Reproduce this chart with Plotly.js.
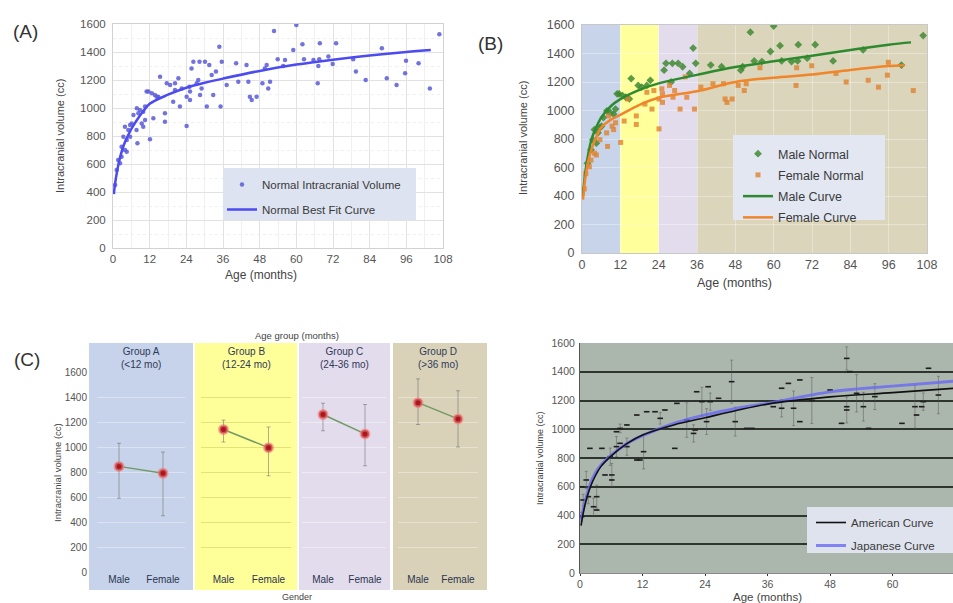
<!DOCTYPE html>
<html><head><meta charset="utf-8">
<script src="https://cdn.plot.ly/plotly-3.0.1.min.js"></script>
<style>html,body{margin:0;padding:0;background:#fff}#chart{width:953px;height:603px}</style>
</head><body><div id="chart"></div>
<script>
// ---------- DATA ----------
const monthTicks = [0,12,24,36,48,60,72,84,96,108];
const monthTicksD = [0,12,24,36,48,60,72];
const volTicks = [0,200,400,600,800,1000,1200,1400,1600];

// Panels A/B: individual normal intracranial volumes (age months, volume cc, sex)
const ageA = [0.7,1.2,1.7,2.3,2.8,2.8,3.4,3.9,3.9,4.5,4.5,5.0,5.6,5.6,6.1,6.7,7.7,7.8,8.0,8.3,8.8,9.4,9.9,9.9,10.5,10.5,11.0,11.6,12.1,12.7,13.2,13.7,14.3,14.8,15.4,17.0,17.0,17.6,18.7,19.7,20.3,20.3,21.4,21.9,22.5,24.1,24.1,25.0,25.2,25.2,25.7,26.3,27.4,27.9,28.3,28.5,29.0,30.1,30.7,31.5,32.3,32.8,33.7,34.8,35.2,35.6,37.2,40.3,41.0,43.7,44.3,44.8,45.4,47.0,48.9,49.7,50.3,50.8,51.4,52.7,53.9,55.7,56.3,59.0,60.0,62.0,62.5,65.6,67.0,67.2,67.5,67.7,70.5,71.9,73.0,78.6,79.5,82.7,88.0,89.6,92.8,95.6,95.9,100.0,103.7,106.8];
const volA = [450,557,629,605,724,652,795,700,866,771,688,843,879,795,890,950,843,998,748,962,986,890,974,866,1010,914,1117,1117,776,1105,926,1093,1081,1081,1224,962,902,1176,1164,1045,1128,1176,1212,1010,1140,871,1081,1152,1117,1057,1283,1331,1176,1200,1331,1093,1140,1331,1010,1307,1236,1093,1260,1438,1010,1331,1164,1319,1188,1307,1188,1081,1057,1081,1176,1283,1307,1140,1188,1550,1348,1300,1343,1414,1593,1455,1348,1343,1176,1300,1348,1462,1367,1314,1462,1348,1260,1200,1426,1212,1164,1248,1338,1319,1140,1526];
const sexA = ['F','F','M','F','M','F','M','F','M','M','F','M','M','F','M','M','F','M','F','F','M','F','M','F','M','F','M','M','F','M','F','M','F','M','M','F','F','M','M','F','F','M','M','F','F','F','F','F','F','F','M','M','F','M','M','F','F','M','F','M','F','F','M','M','F','M','F','M','F','M','F','F','F','F','F','M','M','F','F','M','M','F','M','M','M','M','M','M','F','F','M','M','M','F','M','M','F','F','M','F','F','F','F','M','F','M'];

// Panel A best-fit curve
const fitAgeA = [0.3,0.5,1,2,3,4,6,8,10,12,18,24,30,36,48,60,72,84,96,104];
const fitVolA = [385,430,505,620,700,760,850,920,980,1030,1095,1145,1180,1210,1265,1310,1345,1375,1400,1414];

// Panel B curves
const maleFitAge = [0.3,1,2,3,4,6,9,12,18,24,36,48,60,72,84,96,103];
const maleFitVol = [400,560,700,800,860,950,1030,1080,1145,1190,1250,1305,1345,1385,1425,1462,1478];
const femaleFitAge = [0.3,1,2,3,4,6,9,12,18,24,36,48,60,72,84,96,101];
const femaleFitVol = [375,520,650,730,790,880,935,970,1040,1090,1135,1200,1230,1252,1285,1312,1318];

// Panel C: group means and spread
const groupNames = ['Group A','Group B','Group C','Group D'];
const groupRanges = ['(<12 mo)','(12-24 mo)','(24-36 mo)','(>36 mo)'];
const genders = ['Male','Female'];
const maleMean = [845,1140,1260,1355];
const femaleMean = [790,995,1105,1225];
const malePlus = [185,75,90,190];
const maleMinus = [255,100,130,175];
const femalePlus = [170,165,235,225];
const femaleMinus = [340,225,255,225];

// Panel D: Japanese data with spread, American and Japanese curves
const ageD = [0.3,0.6,0.3,1.2,1.6,2.6,3.2,1.9,3.2,4.2,4.8,6.1,6.1,5.8,7.0,7.7,7.0,7.7,9.0,9.0,10.9,11.5,10.9,12.2,12.8,14.4,15.4,16.3,18.2,18.6,20.5,21.8,22.1,22.4,23.4,24.3,24.6,25.0,26.6,29.1,29.8,32.0,33.0,37.1,38.7,38.7,40.0,41.0,42.2,42.2,44.5,48.0,50.2,51.2,51.2,51.8,51.2,53.1,55.4,54.4,56.6,61.8,64.3,64.6,65.6,65.9,66.9,68.8];
const volD = [600,508,392,647,531,461,438,867,531,867,682,682,647,809,879,902,983,1006,1030,879,786,786,1099,844,1122,1122,1076,1134,867,1180,1064,971,995,1261,1192,1053,1296,1192,1215,1331,1053,1006,1006,1157,1146,1285,1319,1146,1343,1053,1200,1273,1041,1134,1493,1401,1157,1250,1006,1157,1227,1041,1157,1099,1157,1192,1424,1238];
const errD = [0,40,30,60,50,60,0,0,80,0,0,80,0,60,70,0,0,30,0,60,0,0,0,120,0,0,40,0,0,0,120,60,0,0,100,90,0,60,0,150,100,0,0,0,60,0,0,120,0,0,160,0,0,90,80,0,0,130,0,100,90,0,150,0,0,60,0,130];
const amerAge = [0.2,1,2,3,4,6,9,12,18,24,30,36,48,60,72];
const amerVol = [330,480,600,680,740,815,900,960,1030,1080,1130,1175,1225,1255,1285];
const japAge = [0.2,1,2,3,4,6,9,12,18,24,30,36,48,60,72];
const japVol = [370,500,620,700,750,820,900,955,1040,1100,1145,1180,1260,1300,1335];

// ---------- LAYOUT HELPERS ----------
const W = 953, H = 603;
const px = p => p / W;
const py = p => 1 - p / H;
const FONT = 'Liberation Sans, Arial, sans-serif';

const maleIdx = sexA.map((s,i)=>s==='M'?i:-1).filter(i=>i>=0);
const femIdx = sexA.map((s,i)=>s==='F'?i:-1).filter(i=>i>=0);

const traces = [];
// A
traces.push({type:'scatter', mode:'markers', x:ageA, y:volA, xaxis:'x', yaxis:'y',
  name:'Normal Intracranial Volume', legend:'legend', legendgroup:'a1',
  marker:{size:4.5, color:'#5a5ad8', opacity:0.85}});
traces.push({type:'scatter', mode:'lines', x:fitAgeA, y:fitVolA, xaxis:'x', yaxis:'y',
  name:'Normal Best Fit Curve', legend:'legend', legendgroup:'a2',
  line:{color:'#4b4bf0', width:2.5, shape:'spline'}});
// B
traces.push({type:'scatter', mode:'markers', x:maleIdx.map(i=>ageA[i]), y:maleIdx.map(i=>volA[i]), xaxis:'x2', yaxis:'y2',
  name:'Male Normal', legend:'legend2', legendgroup:'b1',
  marker:{size:6, symbol:'diamond', color:'#3f8a33', opacity:0.85}});
traces.push({type:'scatter', mode:'markers', x:femIdx.map(i=>ageA[i]), y:femIdx.map(i=>volA[i]), xaxis:'x2', yaxis:'y2',
  name:'Female Normal', legend:'legend2', legendgroup:'b2',
  marker:{size:5, symbol:'square', color:'#e0822e', opacity:0.8}});
traces.push({type:'scatter', mode:'lines', x:maleFitAge, y:maleFitVol, xaxis:'x2', yaxis:'y2',
  name:'Male Curve', legend:'legend2', legendgroup:'b3',
  line:{color:'#2e8a2e', width:2.5, shape:'spline'}});
traces.push({type:'scatter', mode:'lines', x:femaleFitAge, y:femaleFitVol, xaxis:'x2', yaxis:'y2',
  name:'Female Curve', legend:'legend2', legendgroup:'b4',
  line:{color:'#f0852a', width:2.5, shape:'spline'}});
// C
for (let g=0; g<4; g++) {
  traces.push({type:'scatter', mode:'lines+markers', x:genders, y:[maleMean[g], femaleMean[g]],
    xaxis:'x'+(g+3), yaxis:'y'+(g+3), showlegend:false,
    line:{color:'#6f9a63', width:1.5},
    marker:{size:8, color:'#a8191e', line:{color:'rgba(240,120,120,0.6)', width:3}},
    error_y:{type:'data', symmetric:false, array:[malePlus[g], femalePlus[g]], arrayminus:[maleMinus[g], femaleMinus[g]],
      color:'rgba(110,110,110,0.55)', thickness:1, width:2}});
}
// D
traces.push({type:'scatter', mode:'markers', x:ageD, y:volD, xaxis:'x7', yaxis:'y7', showlegend:false,
  marker:{symbol:'line-ew', size:4, line:{color:'#1e1e1e', width:1.6}},
  error_y:{type:'data', array:errD, color:'rgba(80,80,80,0.45)', thickness:1, width:1.5}});
traces.push({type:'scatter', mode:'lines', x:japAge, y:japVol, xaxis:'x7', yaxis:'y7',
  name:'Japanese Curve', legend:'legend3', legendgroup:'d2', legendrank:2,
  line:{color:'rgba(105,105,245,0.8)', width:3, shape:'spline'}});
traces.push({type:'scatter', mode:'lines', x:amerAge, y:amerVol, xaxis:'x7', yaxis:'y7',
  name:'American Curve', legend:'legend3', legendgroup:'d1', legendrank:1,
  line:{color:'#111', width:1.6, shape:'spline'}});

const baseTick = (size,color) => ({size:size, color:color||'#555', family:FONT});

const layout = {
  width:W, height:H, margin:{l:0,r:0,t:0,b:0},
  paper_bgcolor:'#fff', plot_bgcolor:'rgba(0,0,0,0)',
  font:{family:FONT, color:'#444'},
  showlegend:true,
  // A
  xaxis:{domain:[px(113),px(443)], range:[0,108], tickvals:monthTicks, anchor:'y',
    showgrid:true, gridcolor:'#e2e2e2', minor:{dtick:6, showgrid:true, gridcolor:'#f0f0f0'},
    zeroline:false, showline:true, linecolor:'#d2d2d2', mirror:true, ticks:'', tickfont:baseTick(11.5)},
  yaxis:{domain:[py(248),py(24)], range:[0,1600], tickvals:volTicks, anchor:'x',
    showgrid:true, gridcolor:'#e2e2e2', minor:{dtick:100, showgrid:true, gridcolor:'#f0f0f0', griddash:'dot'},
    zeroline:false, showline:true, linecolor:'#d2d2d2', mirror:true, ticks:'', tickfont:baseTick(11.5), ticklabelstandoff:4},
  // B
  xaxis2:{domain:[px(582),px(927)], range:[0,108], tickvals:monthTicks, anchor:'y2',
    showgrid:true, gridcolor:'rgba(255,255,255,0.35)', zeroline:false, showline:true, linecolor:'#c8c8c8', mirror:true,
    ticks:'', tickfont:baseTick(12.5)},
  yaxis2:{domain:[py(253),py(25)], range:[0,1600], tickvals:volTicks, anchor:'x2',
    showgrid:true, gridcolor:'rgba(255,255,255,0.35)', zeroline:false, showline:true, linecolor:'#c8c8c8', mirror:true,
    ticks:'', tickfont:baseTick(12.5), ticklabelstandoff:4},
  // D
  xaxis7:{domain:[px(580),1], range:[0,71.6], tickvals:monthTicksD, anchor:'y7',
    showgrid:false, zeroline:false, showline:true, linecolor:'#8a8a8a', ticks:'outside', ticklen:2, tickcolor:'#333',
    tickfont:baseTick(10.5), ticklabelstandoff:-1},
  yaxis7:{domain:[py(573),py(343)], range:[0,1600], tickvals:volTicks, anchor:'x7',
    showgrid:true, gridcolor:'#2e352f', gridwidth:2, zeroline:false, showline:true, linecolor:'#555',
    ticks:'', tickfont:baseTick(10.5), ticklabelstandoff:2},
  legend:{x:px(222), y:py(170), xanchor:'left', yanchor:'top', bgcolor:'rgba(0,0,0,0)',
    font:{size:11.5, color:'#3a3a3a'}, traceorder:'grouped', tracegroupgap:6},
  legend2:{x:px(738), y:py(139), xanchor:'left', yanchor:'top', bgcolor:'rgba(0,0,0,0)',
    font:{size:12.5, color:'#3a3a3a'}, traceorder:'grouped', tracegroupgap:2},
  legend3:{x:px(811), y:py(508), xanchor:'left', yanchor:'top', bgcolor:'rgba(0,0,0,0)',
    font:{size:11.5, color:'#3a3a3a'}, traceorder:'grouped', tracegroupgap:4},
  shapes:[], annotations:[]
};

// C axes
const cDomains = [[97,185],[201,291],[302,386],[398,478]];
const cGrid = ['#dbe3f2','#e3e37a','#efebf5','#e7e2d0'];
for (let g=0; g<4; g++) {
  const n = g+3;
  layout['xaxis'+n] = {domain:[px(cDomains[g][0]), px(cDomains[g][1])], type:'category', categoryorder:'array',
    categoryarray:genders, range:[-0.5,1.5], anchor:'y'+n, showgrid:false, zeroline:false, showline:false, ticks:'',
    tickfont:{size:10, color:'#2b3550', family:FONT}};
  layout['yaxis'+n] = {domain:[py(572),py(372)], range:[0,1600], tickvals:volTicks, anchor:'x'+n,
    showgrid:true, gridcolor:cGrid[g], zeroline:false, showline:false, ticks:'',
    showticklabels:(g===0), tickfont:baseTick(10), ticklabelstandoff:9};
}

const S = layout.shapes;
// B background bands
const bandEdges = [0,12,24,36,108];
const bandColors = ['#c7d4ea','#ffff9c','#e3dcec','#dbd5bb'];
for (let i=0;i<4;i++) S.push({type:'rect', xref:'x2', yref:'paper', x0:bandEdges[i], x1:bandEdges[i+1],
  y0:py(253), y1:py(25), fillcolor:bandColors[i], line:{width:0}, layer:'below'});
// C group panels
const cPanels = [[89,193],[195,297],[299,390],[393,487]];
const cColors = ['#c6d3ea','#ffff99','#e3dced','#d9d2b8'];
for (let g=0;g<4;g++) S.push({type:'rect', xref:'paper', yref:'paper', x0:px(cPanels[g][0]), x1:px(cPanels[g][1]),
  y0:py(590), y1:py(343), fillcolor:cColors[g], line:{width:0}, layer:'below'});
// D background
S.push({type:'rect', xref:'paper', yref:'paper', x0:px(580), x1:1, y0:py(573), y1:py(343),
  fillcolor:'#abb6ad', line:{width:0}, layer:'below'});
// legend boxes
S.push({type:'rect', xref:'paper', yref:'paper', x0:px(223), x1:px(416), y0:py(220), y1:py(168),
  fillcolor:'#dde3f0', line:{width:0}, layer:'above'});
S.push({type:'rect', xref:'paper', yref:'paper', x0:px(733), x1:px(885), y0:py(220), y1:py(135),
  fillcolor:'#e2e7f2', line:{width:0}, layer:'above'});
S.push({type:'rect', xref:'paper', yref:'paper', x0:px(807), x1:1, y0:py(553), y1:py(507),
  fillcolor:'#dfe3ee', line:{width:0}, layer:'above'});

const A = layout.annotations;
const ann = (text,x,y,size,opts) => A.push(Object.assign({text:text, xref:'paper', yref:'paper', x:px(x), y:py(y),
  xanchor:'center', yanchor:'middle', showarrow:false, font:{size:size, color:'#444', family:FONT}}, opts||{}));
ann('(A)', 25, 32, 19, {font:{size:19,color:'#333',family:FONT}});
ann('(B)', 490, 43, 19, {font:{size:19,color:'#333',family:FONT}});
ann('(C)', 27, 359, 19, {font:{size:19,color:'#333',family:FONT}});
ann('Intracranial volume (cc)', 60, 136, 11, {textangle:-90});
ann('Age (months)', 261, 275, 12);
ann('Intracranial volume (cc)', 523, 138, 11, {textangle:-90});
ann('Age (months)', 734, 283, 12.5);
ann('Intracranial volume (cc)', 57, 473, 9.5, {textangle:-90});
ann('Age group (months)', 297, 335, 9.5);
ann('Gender', 297, 597, 9);
ann('Intracranial volume (cc)', 540, 458, 9, {textangle:-90});
ann('Age (months)', 767, 597, 11.5);
for (let g=0; g<4; g++) {
  const cx = (cDomains[g][0]+cDomains[g][1])/2;
  ann(groupNames[g]+'<br>'+groupRanges[g], cx, 358, 10, {font:{size:10,color:'#2f3a58',family:FONT}});
}

Plotly.newPlot('chart', traces, layout, {staticPlot:true, displayModeBar:false});
</script></body></html>
